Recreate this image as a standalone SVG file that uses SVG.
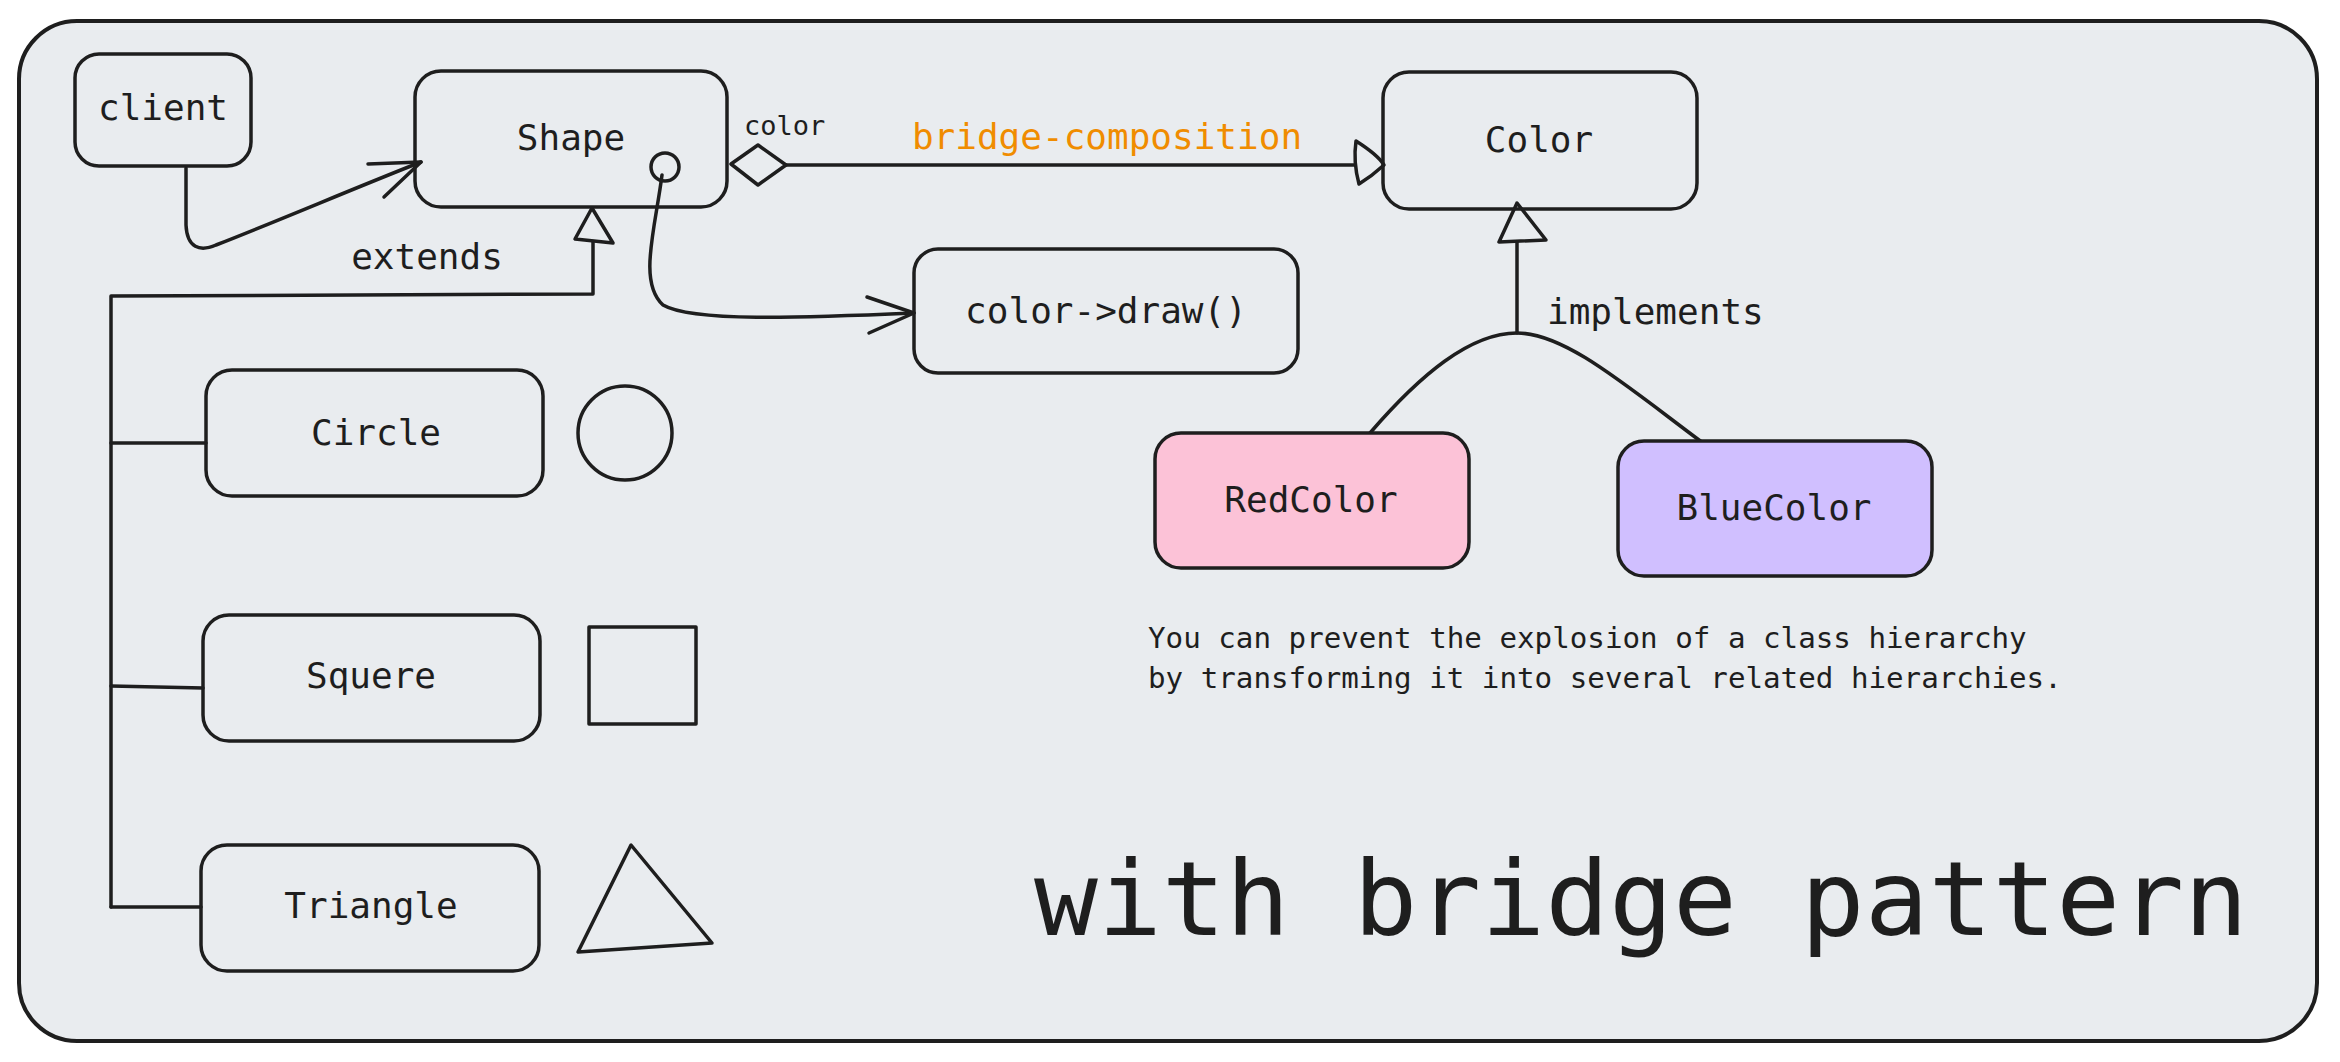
<svg xmlns="http://www.w3.org/2000/svg" width="2340" height="1062" viewBox="0 0 2340 1062">
<style>
.box{fill:none;stroke:#1e1e1e;stroke-width:3.5;stroke-linejoin:round}
.ln{fill:none;stroke:#1e1e1e;stroke-width:3.5;stroke-linecap:round;stroke-linejoin:round}
.hd{fill:#e9ecef;stroke:#1e1e1e;stroke-width:3.5;stroke-linejoin:round}
.t{font-family:"DejaVu Sans Mono","Liberation Mono",monospace;fill:#1e1e1e;font-size:36px}
.c{text-anchor:middle}
</style>
<rect width="2340" height="1062" fill="#ffffff"/>
<rect id="frame" x="19" y="21" width="2298" height="1020" rx="58" fill="#e9ecef" stroke="#1e1e1e" stroke-width="4"/>

<g id="connectors">
  <path class="ln" d="M186,168 L186,225 C187,248 200,252 216,245 C280,220 350,190 421,162"/>
  <path class="ln" d="M368,164 L421,162 L384,197"/>
  <path class="ln" d="M662,175 C655,230 638,282 663,305 C692,322 800,318 914,313"/>
  <path class="ln" d="M867,297 L914,313 L869,333"/>
  <path class="ln" d="M593,241 L593,294 L111,296 L111,907"/>
  <path class="ln" d="M111,443 L206,443 M111,686 L203,688 M111,907 L201,907"/>
  <polygon class="hd" points="592,208 575,239 613,243"/>
  <path class="ln" d="M786,165 L1356,165"/>
  <polygon class="hd" points="731,164 758,145 786,165 758,185"/>
  <path class="hd" d="M1356,141 Q1378,155 1384,165 Q1372,176 1359,184 Q1353,162 1356,141 Z"/>
  <path class="ln" d="M1517,242 L1517,333"/>
  <path class="ln" d="M1370,433 C1420,375 1470,333 1517,333 C1565,333 1625,385 1703,443"/>
  <polygon class="hd" points="1517,203 1499,242 1546,240"/>
  <text class="t" x="427" y="269" text-anchor="middle">extends</text>
  <text class="t" x="1547" y="324">implements</text>
  <text class="t" x="744" y="135" style="font-size:27px">color</text>
  <text class="t c" x="1107" y="149" style="fill:#f08c00">bridge-composition</text>
</g>

<g id="client">
  <rect class="box" x="75" y="54" width="176" height="112" rx="24"/>
  <text class="t c" x="163" y="120">client</text>
</g>
<g id="shape">
  <rect class="box" x="415" y="71" width="312" height="136" rx="26"/>
  <text class="t c" x="571" y="150">Shape</text>
  <circle class="box" cx="665" cy="167" r="14"/>
</g>
<g id="color">
  <rect class="box" x="1383" y="72" width="314" height="137" rx="26"/>
  <text class="t c" x="1539" y="152">Color</text>
</g>
<g id="draw">
  <rect class="box" x="914" y="249" width="384" height="124" rx="24"/>
  <text class="t c" x="1106" y="323">color-&gt;draw()</text>
</g>
<g id="redcolor">
  <rect class="box" x="1155" y="433" width="314" height="135" rx="26" style="fill:#fcc2d7"/>
  <text class="t c" x="1311" y="512">RedColor</text>
</g>
<g id="bluecolor">
  <rect class="box" x="1618" y="441" width="314" height="135" rx="26" style="fill:#d0bfff"/>
  <text class="t c" x="1774" y="520">BlueColor</text>
</g>
<g id="circle-class">
  <rect class="box" x="206" y="370" width="337" height="126" rx="26"/>
  <text class="t c" x="376" y="445">Circle</text>
</g>
<g id="squere-class">
  <rect class="box" x="203" y="615" width="337" height="126" rx="26"/>
  <text class="t c" x="371" y="688">Squere</text>
</g>
<g id="triangle-class">
  <rect class="box" x="201" y="845" width="338" height="126" rx="26"/>
  <text class="t c" x="371" y="918">Triangle</text>
</g>
<g id="shapes">
  <circle class="box" cx="625" cy="433" r="47"/>
  <rect class="box" x="589" y="627" width="107" height="97"/>
  <polygon class="box" points="631,845 578,952 712,943"/>
</g>
<g id="note">
  <text class="t" x="1148" y="648" style="font-size:29.2px">You can prevent the explosion of a class hierarchy</text>
  <text class="t" x="1148" y="688" style="font-size:29.2px">by transforming it into several related hierarchies.</text>
</g>
<g id="title">
  <text class="t" x="1034" y="935" style="font-size:104px" textLength="1214" lengthAdjust="spacingAndGlyphs">with bridge pattern</text>
</g>
</svg>
